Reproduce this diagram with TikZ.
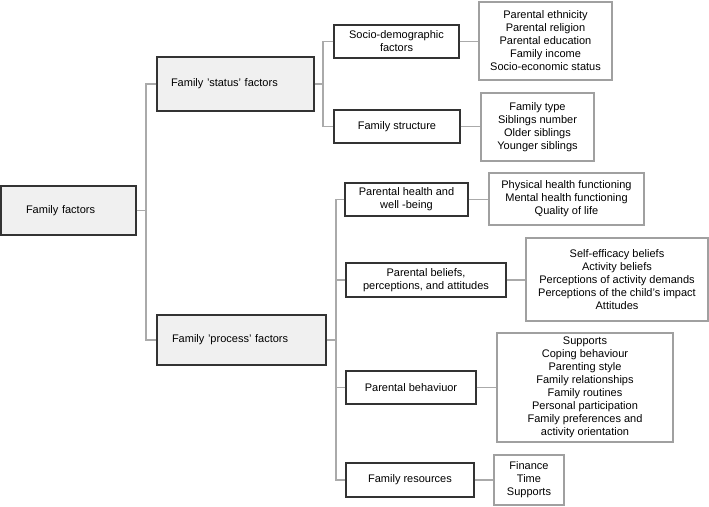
\documentclass[tikz,border=0pt]{standalone}
\usepackage{fontspec}
\setmainfont{Liberation Sans}
\usepackage{xcolor}
\usetikzlibrary{calc, positioning}
\definecolor{boxgray}{HTML}{F0F0F0}
\definecolor{edgedark}{HTML}{333333}
\definecolor{itemgray}{HTML}{A0A0A0}
\definecolor{linegray}{HTML}{AAAAAA}
\tikzset{
  % connector style
  fline/.style={
    draw=linegray
    , line width = 1.1pt
  },
}
\tikzset{
  % top level boxes
  mainbox/.style={
    draw=edgedark
    , fill=boxgray
    , line width=1.1pt
    , align=left
    , inner ysep=0pt
    , font=\fontsize{11}{13}\selectfont
  },
  % category boxes
  catbox/.style={
    draw=edgedark
    , fill=white
    , line width=1.1pt
    , align=center
    , inner sep=0pt
    , font=\fontsize{11}{13}\selectfont
  },
  % list boxes
  itembox/.style={
    draw=itemgray
    , fill=white
    , line width=1.2pt
    , align=center
    , inner sep=0pt
    , font=\fontsize{11}{13}\selectfont
  },
}
\begin{document}
\begin{tikzpicture}[x=1pt, y=-1pt]
  \useasboundingbox (0,0) rectangle (709,506);
  % top level
  \node[mainbox, text width=85pt, inner xsep=25pt, minimum height=49pt] (ff) at (68.5,210.5) {Family factors};
  \node[mainbox, text width=129pt, inner xsep=14pt, minimum height=54pt] (st) at (235.5,84) {Family 'status' factors};
  \node[mainbox, text width=139pt, inner xsep=15pt, minimum height=50pt] (ps) at (241.5,340) {Family 'process' factors};
  % categories
  \node[catbox, minimum width=125pt, minimum height=33pt] (sd) at (396.5,41.5) {Socio-demographic\\factors};
  \node[catbox, minimum width=126pt, minimum height=33pt] (fs) at (397,126.5) {Family structure};
  \node[catbox, minimum width=123pt, minimum height=33pt] (ph) at (406.5,199.5) {Parental health and\\well -being};
  \node[catbox, minimum width=160pt, minimum height=34pt] (pb) at (426,280) {Parental beliefs,\\perceptions, and attitudes};
  \node[catbox, minimum width=130pt, minimum height=33pt] (pv) at (411,387.5) {Parental behaviuor};
  \node[catbox, minimum width=128pt, minimum height=34pt] (fr) at (410,480) {Family resources};
  % lists
  \node[itembox, minimum width=133pt, minimum height=78pt] (sdi) at (545.5,41) {Parental ethnicity\\Parental religion\\Parental education\\Family income\\Socio-economic status};
  \node[itembox, minimum width=113pt, minimum height=68pt] (fsi) at (537.5,127) {Family type\\Siblings number\\Older siblings\\Younger siblings};
  \node[itembox, minimum width=155pt, minimum height=52pt] (phi) at (566.5,199) {Physical health functioning\\Mental health functioning\\Quality of life};
  \node[itembox, minimum width=182pt, minimum height=83pt] (pbi) at (617,279.5) {Self-efficacy beliefs\\Activity beliefs\\Perceptions of activity demands\\Perceptions of the child's impact\\Attitudes};
  \node[itembox, minimum width=176pt, minimum height=109pt] (pvi) at (585,387.5) {Supports\\Coping behaviour\\Parenting style\\Family relationships\\Family routines\\Personal participation\\Family preferences and\\activity orientation};
  \node[itembox, minimum width=70pt, minimum height=50pt] (fri) at (529,480) {Finance\\Time\\Supports};
  % junctions
  \coordinate (jmain) at (146,0);
  \coordinate (jst) at (323,0);
  \coordinate (jpr) at (336,0);
  % tree lines
  \draw[fline] (ff.east) -- (ff.east -| jmain);
  \draw[fline] (st.west) -- (st.west -| jmain) |- (ps.west);
  \draw[fline] (st.east) -- (st.east -| jst);
  \draw[fline] (sd.west) -- (sd.west -| jst) |- (fs.west);
  \draw[fline] (ps.east) -- (ps.east -| jpr);
  \draw[fline] (ph.west) -- (ph.west -| jpr) |- (fr.west);
  \draw[fline] (pb.west) -- (pb.west -| jpr);
  \draw[fline] (pv.west) -- (pv.west -| jpr);
  % category to list
  \draw[fline] (sd.east) -- (sd.east -| sdi.west);
  \draw[fline] (fs.east) -- (fs.east -| fsi.west);
  \draw[fline] (ph.east) -- (ph.east -| phi.west);
  \draw[fline] (pb.east) -- (pb.east -| pbi.west);
  \draw[fline] (pv.east) -- (pv.east -| pvi.west);
  \draw[fline] (fr.east) -- (fr.east -| fri.west);
\end{tikzpicture}
\end{document}
